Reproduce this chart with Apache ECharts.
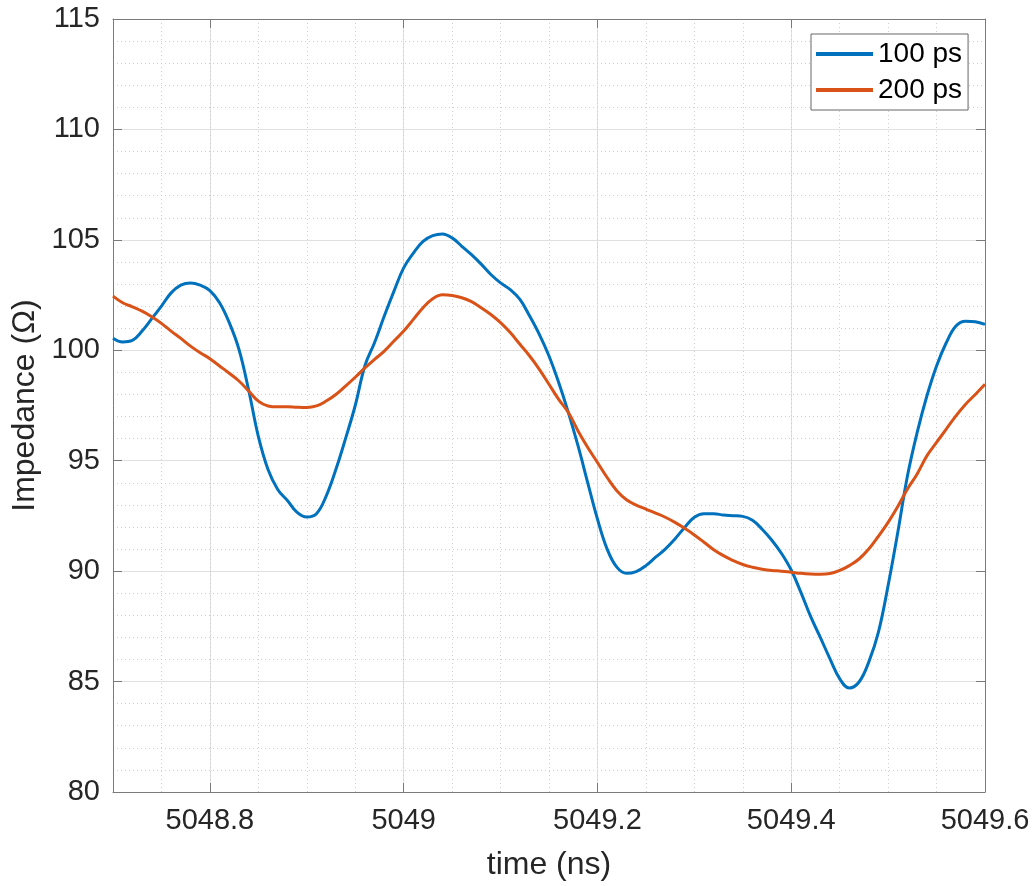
<!DOCTYPE html>
<html>
<head>
<meta charset="utf-8">
<script src="https://cdn.jsdelivr.net/npm/echarts@6/dist/echarts.min.js"></script>
<style>
html,body{margin:0;padding:0;background:#fff;}
#chart{width:1036px;height:886px;}
</style>
</head>
<body>
<div id="chart"></div>
<script>
// ---- data ----
const timeNs = [5048.70,5048.71,5048.72,5048.73,5048.74,5048.75,5048.76,5048.77,5048.78,5048.79,
  5048.80,5048.81,5048.82,5048.83,5048.84,5048.85,5048.86,5048.87,5048.88,5048.89,
  5048.90,5048.91,5048.92,5048.93,5048.94,5048.95,5048.96,5048.97,5048.98,5048.99,
  5049.00,5049.01,5049.02,5049.03,5049.04,5049.05,5049.06,5049.07,5049.08,5049.09,
  5049.10,5049.11,5049.12,5049.13,5049.14,5049.15,5049.16,5049.17,5049.18,5049.19,
  5049.20,5049.21,5049.22,5049.23,5049.24,5049.25,5049.26,5049.27,5049.28,5049.29,
  5049.30,5049.31,5049.32,5049.33,5049.34,5049.35,5049.36,5049.37,5049.38,5049.39,
  5049.40,5049.41,5049.42,5049.43,5049.44,5049.45,5049.46,5049.47,5049.48,5049.49,
  5049.50,5049.51,5049.52,5049.53,5049.54,5049.55,5049.56,5049.57,5049.58,5049.59,5049.60];

const imp100ps = [100.55,100.38,100.45,100.87,101.43,102.0,102.6,102.95,103.05,102.95,
  102.7,102.15,101.25,100.04,98.2,96.1,94.6,93.7,93.2,92.66,
  92.45,92.6,93.4,94.6,96.0,97.5,99.3,100.35,101.55,102.68,
  103.73,104.4,104.93,105.19,105.27,105.09,104.71,104.33,103.9,103.43,
  103.05,102.75,102.3,101.55,100.72,99.74,98.54,97.18,95.67,94.0,
  92.36,91.0,90.18,89.9,89.98,90.25,90.63,91.0,91.46,91.98,
  92.44,92.6,92.6,92.54,92.51,92.48,92.3,91.9,91.4,90.8,
  90.05,89.04,87.95,87.0,86.03,85.13,84.71,84.98,85.88,87.24,
  89.35,91.76,94.32,96.28,97.93,99.29,100.34,101.1,101.32,101.29,101.17];

const imp200ps = [102.45,102.15,101.97,101.77,101.52,101.22,100.87,100.54,100.19,99.89,
  99.62,99.29,98.96,98.61,98.16,97.7,97.48,97.44,97.44,97.42,
  97.41,97.48,97.7,98.0,98.38,98.78,99.2,99.59,99.96,100.42,
  100.87,101.4,101.93,102.33,102.51,102.48,102.38,102.2,101.93,101.62,
  101.25,100.8,100.27,99.74,99.14,98.46,97.78,97.18,96.35,95.6,
  94.92,94.24,93.64,93.23,92.99,92.81,92.63,92.44,92.21,91.94,
  91.64,91.31,90.97,90.7,90.48,90.3,90.18,90.09,90.03,90.0,
  89.95,89.9,89.87,89.86,89.89,90.03,90.25,90.55,91.0,91.58,
  92.21,92.93,93.72,94.4,95.22,95.83,96.43,97.03,97.56,98.0,98.46];

const xTickValues = [5048.8, 5049.0, 5049.2, 5049.4, 5049.6];
const seriesNames = ['100 ps', '200 ps'];

// ---- chart ----
const FONT = '"Liberation Sans", Arial, Helvetica, sans-serif';
const AX = '#7a7a7a';
const TXT = '#262626';
const MAJOR = '#e0e0e0';
const MINOR = '#cfcfcf';
const X_MIN = 5048.7, X_MAX = 5049.6;

const chart = echarts.init(document.getElementById('chart'), null, {renderer: 'canvas'});
const pairs = arr => timeNs.map((t, i) => [t, arr[i]]);

chart.setOption({
  animation: false,
  backgroundColor: '#ffffff',
  grid: {left: 113, top: 19, right: 51, bottom: 93, containLabel: false},
  legend: {
    orient: 'vertical',
    left: 811, top: 34,
    data: seriesNames,
    icon: 'rect',
    itemWidth: 57, itemHeight: 4,
    itemGap: 4,
    padding: [4, 6, 4, 5],
    backgroundColor: '#ffffff',
    borderColor: '#666666',
    borderWidth: 1,
    borderRadius: 0,
    textStyle: {fontSize: 28, color: '#000', fontFamily: FONT, lineHeight: 32, padding: [0, 0, 0, 0]}
  },
  xAxis: [
    {
      type: 'value', min: X_MIN, max: X_MAX, position: 'bottom',
      name: 'time (ns)', nameLocation: 'middle', nameGap: 57,
      nameTextStyle: {fontSize: 32, color: TXT, fontFamily: FONT},
      axisLine: {show: true, onZero: false, lineStyle: {color: AX, width: 1}},
      axisTick: {show: true, inside: true, length: 9, customValues: xTickValues, lineStyle: {color: AX}},
      axisLabel: {show: true, customValues: xTickValues, fontSize: 29, color: TXT, fontFamily: FONT, margin: 14,
        formatter: v => String(+(+v).toFixed(1))},
      splitLine: {show: true, lineStyle: {color: MAJOR, width: 1}}
    },
    {
      type: 'value', min: X_MIN, max: X_MAX, position: 'top',
      axisLine: {show: true, onZero: false, lineStyle: {color: AX, width: 1}},
      axisTick: {show: true, inside: true, length: 9, customValues: xTickValues, lineStyle: {color: AX}},
      axisLabel: {show: false},
      splitLine: {show: false}
    },
    {
      type: 'value', min: X_MIN, max: X_MAX, interval: 0.05, position: 'bottom',
      axisLine: {show: false}, axisTick: {show: false}, axisLabel: {show: false},
      splitLine: {show: true, lineStyle: {color: MINOR, width: 1, type: [1, 3]}}
    }
  ],
  yAxis: [
    {
      type: 'value', min: 80, max: 115, interval: 5, position: 'left',
      name: 'Impedance (\u03A9)', nameLocation: 'middle', nameGap: 68, nameRotate: 90,
      nameTextStyle: {fontSize: 32, color: TXT, fontFamily: FONT},
      axisLine: {show: true, onZero: false, lineStyle: {color: AX, width: 1}},
      axisTick: {show: true, inside: true, length: 9, lineStyle: {color: AX}},
      axisLabel: {fontSize: 29, color: TXT, fontFamily: FONT, margin: 13},
      splitLine: {show: true, lineStyle: {color: MAJOR, width: 1}},
      minorTick: {show: false, splitNumber: 5},
      minorSplitLine: {show: true, lineStyle: {color: MINOR, width: 1, type: [1, 3]}}
    },
    {
      type: 'value', min: 80, max: 115, interval: 5, position: 'right',
      axisLine: {show: true, onZero: false, lineStyle: {color: AX, width: 1}},
      axisTick: {show: true, inside: true, length: 9, lineStyle: {color: AX}},
      axisLabel: {show: false},
      splitLine: {show: false}
    }
  ],
  series: [
    {
      name: seriesNames[0], type: 'line', xAxisIndex: 0, yAxisIndex: 0,
      data: pairs(imp100ps), showSymbol: false, smooth: 0.4,
      lineStyle: {color: '#0072BD', width: 3}, itemStyle: {color: '#0072BD'}, z: 3
    },
    {
      name: seriesNames[1], type: 'line', xAxisIndex: 0, yAxisIndex: 0,
      data: pairs(imp200ps), showSymbol: false, smooth: 0.4,
      lineStyle: {color: '#D95319', width: 3}, itemStyle: {color: '#D95319'}, z: 3
    }
  ]
});
</script>
</body>
</html>
